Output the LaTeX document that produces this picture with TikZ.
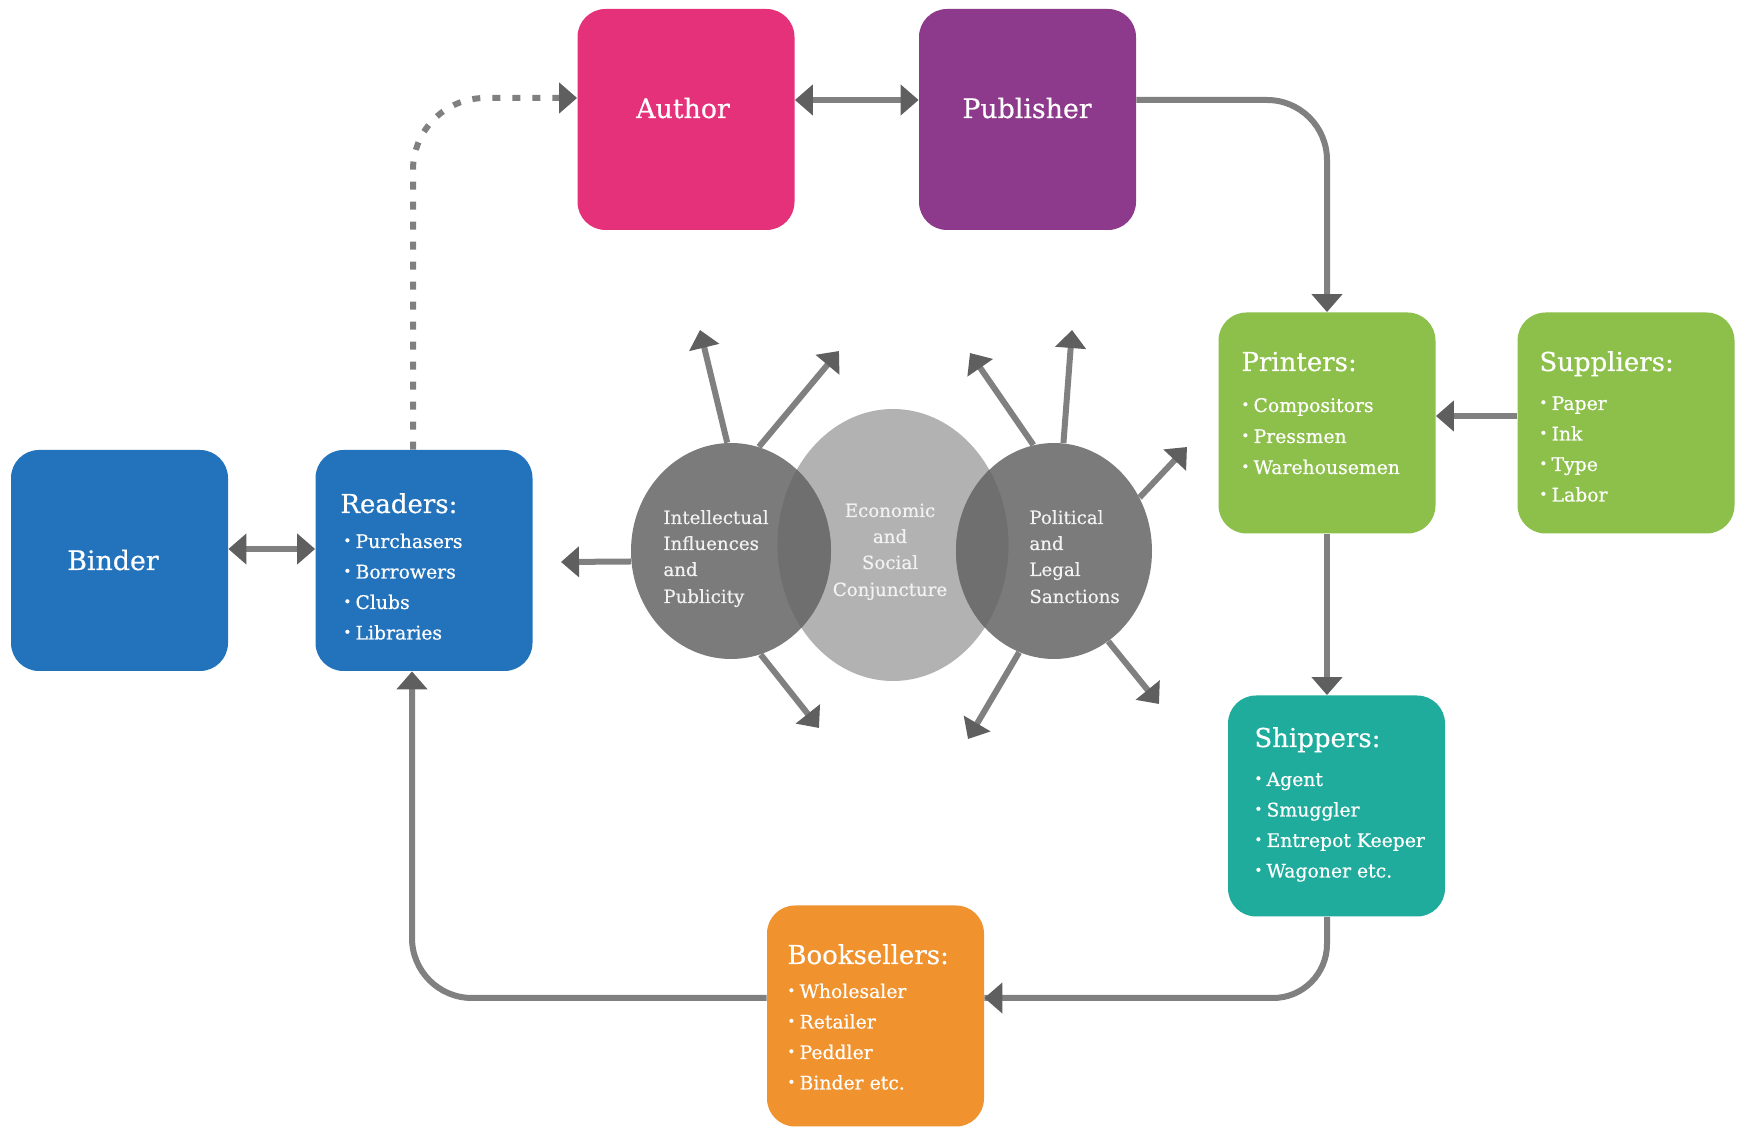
\documentclass[tikz,border=0pt]{standalone}
\usepackage{fontspec}
\setmainfont{DejaVu Serif}[FakeBold=0.5]
\usetikzlibrary{arrows.meta,calc,shapes.geometric}
\definecolor{authorc}{HTML}{E5317A}
\definecolor{pubc}{HTML}{8E3A8C}
\definecolor{bluec}{HTML}{2373BC}
\definecolor{greenc}{HTML}{8CC04A}
\definecolor{tealc}{HTML}{20AC9C}
\definecolor{orangec}{HTML}{F0922E}
\definecolor{linec}{HTML}{808080}
\definecolor{headc}{HTML}{5F5F5F}
\definecolor{darkc}{HTML}{7B7B7B}
\definecolor{lensc}{HTML}{6F6F6F}
\definecolor{lightc}{HTML}{B2B2B2}
\definecolor{ctext}{HTML}{F2F2F2}
\newcommand\mybul{\raisebox{.14em}{\fontsize{6.8}{6.8}\selectfont •}\hspace{.22em}}
\begin{document}
\begin{tikzpicture}[x=0.5pt,y=-0.5pt,
 box/.style={rectangle, rounded corners=14pt, minimum width=108.5pt, minimum height=110.5pt, inner sep=0pt, draw=none},
 big/.style={text=white, font=\fontsize{13.4}{16}\selectfont, inner sep=0pt},
 ttl/.style={text=white, font=\fontsize{13}{16}\selectfont, anchor=base west, inner sep=0pt},
 itm/.style={text=white, font=\fontsize{9.4}{12}\selectfont, anchor=base west, inner sep=0pt},
 ctx/.style={text=ctext, font=\fontsize{9.1}{12}\selectfont, anchor=base west, inner sep=0pt},
 ctxc/.style={ctx, anchor=base},
 conn/.style={draw=linec, line width=3pt, -{Triangle[length=9pt,width=15pt,color=headc]}},
 conn2/.style={draw=linec, line width=3pt, {Triangle[length=9pt,width=15pt,color=headc]}-{Triangle[length=9pt,width=15pt,color=headc]}},
 dashconn/.style={conn, dash pattern=on 4pt off 6pt},
 blob/.style={ellipse, inner sep=0pt, draw=none}
]
\useasboundingbox (0,0) rectangle (1742,1127);
\fill[white] (0,0) rectangle (1742,1127);

% boxes
\node[box, fill=authorc] (author) at (686,119.5) {};
\node[box, fill=pubc] (publisher) at (1027.5,119.5) {};
\node[box, fill=bluec] (binder) at (119.5,560.5) {};
\node[box, fill=bluec] (readers) at (424,560.5) {};
\node[box, fill=greenc] (printers) at (1327,423) {};
\node[box, fill=greenc] (suppliers) at (1626,423) {};
\node[box, fill=tealc] (shippers) at (1336.5,806) {};
\node[box, fill=orangec] (booksellers) at (875.5,1016) {};

% big labels
\node[big] (author-t) at (683,108) {Author};
\node[big] (publisher-t) at (1027,108) {Publisher};
\node[big] (binder-t) at (113,560) {Binder};

% titles
\node[ttl] (readers-t) at (340,513) {Readers:};
\node[ttl] (printers-t) at (1241,371) {Printers:};
\node[ttl] (suppliers-t) at (1539,371) {Suppliers:};
\node[ttl] (shippers-t) at (1254,747) {Shippers:};
\node[ttl] (booksellers-t) at (787,964) {Booksellers:};

% items
\foreach \t [count=\i from 0] in {Purchasers,Borrowers,Clubs,Libraries}
  \node[itm] (readers-i\i) at (343,{548+30.5*\i}) {\mybul\t};
\foreach \t [count=\i from 0] in {Compositors,Pressmen,Warehousemen}
  \node[itm] (printers-i\i) at (1241,{412+31*\i}) {\mybul\t};
\foreach \t [count=\i from 0] in {Paper,Ink,Type,Labor}
  \node[itm] (suppliers-i\i) at (1539,{410+30.5*\i}) {\mybul\t};
\foreach \t [count=\i from 0] in {Agent,Smuggler,Entrepot Keeper,Wagoner etc.}
  \node[itm] (shippers-i\i) at (1254,{786+30.5*\i}) {\mybul\t};
\foreach \t [count=\i from 0] in {Wholesaler,Retailer,Peddler,Binder etc.}
  \node[itm] (booksellers-i\i) at (787,{998+30.5*\i}) {\mybul\t};

% connectors between boxes
\draw[conn2] ($(author.east)+(0,-19.5)$) -- ($(publisher.west)+(0,-19.5)$);
\draw[conn2] ($(binder.east)+(0,-11.5)$) -- ($(readers.west)+(0,-11.5)$);
\draw[conn, rounded corners=30pt] ($(publisher.east)+(0,-19.5)$) -| (printers.north);
\draw[conn] ($(suppliers.west)+(0,-7)$) -- ($(printers.east)+(0,-7)$);
\draw[conn] (printers.south) -- (printers.south |- shippers.north);
\draw[draw=linec, line width=3pt, rounded corners=27pt] (printers.south |- shippers.south) |- ($(booksellers.east)+(0,-18)$) coordinate (bse);
\draw[conn] ($(bse)+(30,0)$) -- (bse);
\draw[conn, rounded corners=30pt] ($(booksellers.west)+(0,-18)$) -| ($(readers.south)+(-12,0)$);
\draw[dashconn, rounded corners=36pt] ($(readers.north)+(-11,0)$) |- ($(author.west)+(0,-21.5)$);

% blobs
\node[blob, fill=lightc, minimum width=115.5pt, minimum height=136pt] (econ) at (893,545) {};
\node[blob, fill=darkc, minimum width=100pt, minimum height=108pt] (intel) at (731,551) {};
\node[blob, fill=darkc, minimum width=98pt, minimum height=108pt] (polit) at (1054,551) {};
\begin{scope}
\clip (893,545) ellipse [x radius=57.75pt, y radius=68pt];
\fill[lensc] (731,551) ellipse [x radius=50pt, y radius=54pt];
\fill[lensc] (1054,551) ellipse [x radius=49pt, y radius=54pt];
\end{scope}

% blob texts
\node[ctx] (intel-1) at (663,524) {Intellectual};
\node[ctx] (intel-2) at (663,550) {Influences};
\node[ctx] (intel-3) at (663,576) {and};
\node[ctx] (intel-4) at (663,603) {Publicity};
\node[ctxc] (econ-1) at (890,517) {Economic};
\node[ctxc] (econ-2) at (890,543) {and};
\node[ctxc] (econ-3) at (890,569) {Social};
\node[ctxc] (econ-4) at (890,596) {Conjuncture};
\node[ctx] (polit-1) at (1029,524) {Political};
\node[ctx] (polit-2) at (1029,550) {and};
\node[ctx] (polit-3) at (1029,576) {Legal};
\node[ctx] (polit-4) at (1029,603) {Sanctions};

% radiating arrows
\coordinate (p1) at (561,562);
\coordinate (p2) at (700,330);
\coordinate (p3) at (839,351);
\coordinate (p4) at (819,728);
\coordinate (q1) at (970,353);
\coordinate (q2) at (1072,330);
\coordinate (q3) at (1187,447);
\coordinate (q4) at (968,739);
\coordinate (q5) at (1159,704);
\draw[conn] (intel.186) -- (p1);
\draw[conn] (intel.92) -- (p2);
\draw[conn] (intel.75) -- (p3);
\draw[conn] (intel.286) -- (p4);
\draw[conn] (polit.101) -- (q1);
\draw[conn] (polit.85) -- (q2);
\draw[conn] (polit.32) -- (q3);
\draw[conn] (polit.251) -- (q4);
\draw[conn] (polit.301) -- (q5);
\end{tikzpicture}
\end{document}
